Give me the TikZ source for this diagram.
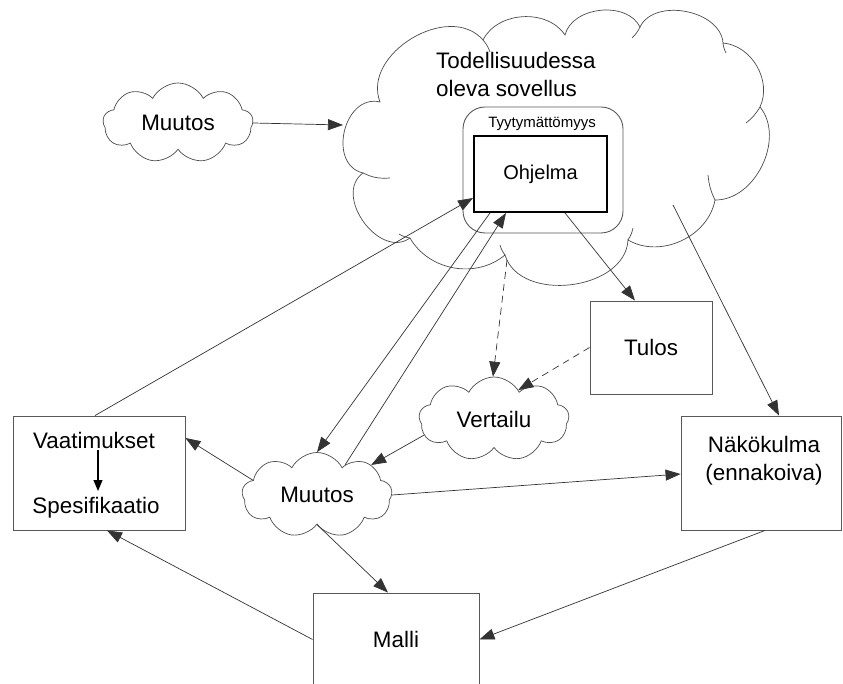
\documentclass[tikz,border=0pt]{standalone}
\usepackage{fontspec}
\setmainfont{Liberation Sans}
\usetikzlibrary{arrows.meta,shapes.symbols}

\tikzset{
  lbl/.style={font=\fontsize{22.4}{28.5}\selectfont, text=black},
  boxline/.style={draw=black!65, line width=0.9pt},
  puff/.style={draw=black!70, line width=0.7pt},
  smallcloud/.style={puff, cloud, cloud puffs=9, cloud puff arc=125,
    cloud ignores aspect, fill=white, inner sep=0pt, lbl},
  conn/.style={draw=black!80, line width=0.7pt, -{Triangle[length=15pt,width=11pt]}},
  dashconn/.style={conn, dashed, dash pattern=on 7pt off 5pt},
}

\begin{document}
\begin{tikzpicture}[x=1pt, y=-1pt]
\useasboundingbox (0,0) rectangle (843,684);
\clip (0,0) rectangle (843,684);
\fill[white] (0,0) rectangle (843,684);

% the big cloud: the application in reality
\draw[puff, fill=white]
  (363,173) to[bend left=90, looseness=1.3] (380,102)
  to[bend left=80, looseness=1.1] (483,40)
  to[bend left=60] (565,35)
  to[bend left=70] (640,27)
  to[bend left=75] (723,43)
  to[bend left=55] (760,107)
  to[bend left=65] (715,200)
  to[bend left=55] (628,240)
  to[bend left=80, looseness=1.05] (505,255)
  to[bend left=50] (410,238)
  to[bend left=90, looseness=1.2] cycle;
% inner ends of the puffs
\draw[puff] (363,173) to[bend right=15] (390,178);
\draw[puff] (483,40) to[bend left=10] (490,52);
\draw[puff] (640,27) to[bend left=10] (632,38);
\draw[puff] (723,43) to[bend right=10] (726,53);
\draw[puff] (760,107) to[bend left=10] (746,123);
\draw[puff] (715,200) to[bend left=10] (708,175);
\draw[puff] (628,240) to[bend right=10] (633,228);
\draw[puff] (505,255) to[bend left=10] (500,245);
\draw[puff] (410,238) to[bend left=10] (399,234);

\coordinate (sovL) at (343,125);
\coordinate (sovIn) at (673,205);
\coordinate (sovB) at (507,260);

\node[lbl, align=left, anchor=north west, inner sep=0pt] (sovtxt) at (436,52)
  {Todellisuudessa\\oleva sovellus};

% dissatisfaction frame around the program
\node[draw=black!65, line width=0.9pt, rounded corners=22pt,
  minimum width=160pt, minimum height=126pt] (tyyt) at (543,170) {};
\node[font=\fontsize{15}{18}\selectfont, anchor=base] (tyyttxt) at (542,128) {Tyytymättömyys};
\node[draw=black, line width=2pt, fill=white, minimum width=133pt, minimum height=76pt,
  font=\fontsize{20}{24}\selectfont] (ohj) at (540.5,174) {Ohjelma};

% boxes
\node[boxline, lbl, minimum width=122pt, minimum height=93pt] (tulos) at (651,347.5) {Tulos};
\node[boxline, minimum width=160pt, minimum height=114pt] (nako) at (761,473) {};
\node[lbl, align=center, anchor=north, inner sep=0pt] (nakotxt) at (764,436) {Näkökulma\\(ennakoiva)};
\node[boxline, minimum width=172pt, minimum height=114pt] (vaatbox) at (99,473) {};
\node[lbl, anchor=base, inner sep=2pt] (vaat) at (94,448) {Vaatimukset};
\node[lbl, anchor=base, inner sep=2pt] (spes) at (96,513) {Spesifikaatio};
\coordinate (spesTop) at (98,491);
\node[boxline, lbl, minimum width=166pt, minimum height=93pt] (malli) at (396,639.5) {Malli};

% clouds
\node[smallcloud, minimum width=150pt, minimum height=80pt] (muutos1) at (178,123) {Muutos};
\node[smallcloud, minimum width=150pt, minimum height=85pt] (muutos2) at (317,495) {Muutos};
\node[smallcloud, minimum width=150pt, minimum height=84pt] (vert) at (494,419) {Vertailu};

% connectors
\draw[conn] (muutos1.east) -- (sovL);
\draw[conn] ([xshift=-4pt]vaatbox.north) -- ([yshift=15pt]ohj.south west);
\draw[conn] (muutos2.47) -- ([xshift=-34.5pt]ohj.south);
\draw[conn] ([xshift=-50.5pt]ohj.south) -- (muutos2.north);
\draw[conn] ([xshift=24.5pt]ohj.south) -- ([xshift=-16pt]tulos.north);
\draw[conn] (sovIn) -- ([xshift=18pt]nako.north);
\draw[dashconn] (sovB) -- ([xshift=-1pt]vert.north);
\draw[dashconn] (tulos.west) -- (vert.50);
\draw[conn] (vert.193) -- (muutos2.29);
\draw[conn] (muutos2.167) -- ([yshift=35pt]vaatbox.east);
\draw[conn] (muutos2.east) -- ([yshift=-1pt]nako.west);
\draw[conn] (muutos2.south) -- ([xshift=-8pt]malli.north);
\draw[conn] (malli.west) -- ([xshift=8pt]vaatbox.south);
\draw[conn] ([xshift=4pt]nako.south) -- (malli.east);
\draw[draw=black, line width=1.2pt, -{Triangle[length=11pt,width=9pt]}] (vaat.south -| spesTop) -- (spesTop);
\end{tikzpicture}
\end{document}
